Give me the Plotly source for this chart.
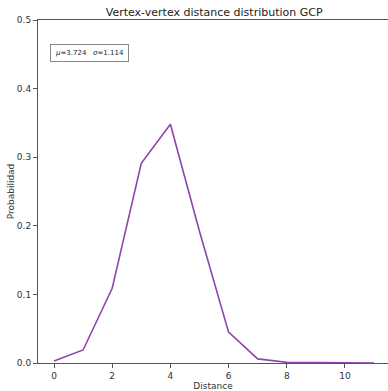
import plotly.graph_objects as go

distance = [0, 1, 2, 3, 4, 5, 6, 7, 8, 9, 10, 11]
probabilidad = [0.003, 0.019, 0.109, 0.291, 0.348, 0.192, 0.045, 0.006, 0.001, 0.0003, 0.0001, 0.0]
x_ticks = [0, 2, 4, 6, 8, 10]
y_ticks = [0.0, 0.1, 0.2, 0.3, 0.4, 0.5]
stats_text = "<i>μ</i>=3.724   <i>σ</i>=1.114"

fig = go.Figure()
fig.add_trace(go.Scatter(x=distance, y=probabilidad, mode="lines",
                         line=dict(color="#8e44ad", width=1.6), showlegend=False))

axis_common = dict(showgrid=False, zeroline=False, showline=True, linecolor="#555",
                   linewidth=1, ticks="outside", ticklen=4, tickcolor="#555",
                   tickfont=dict(size=9, color="#333"))
fig.update_layout(
    width=388, height=391,
    margin=dict(l=38, r=0, t=20, b=28),
    paper_bgcolor="white", plot_bgcolor="white",
    font=dict(family="DejaVu Sans", color="#222"),
    title=dict(text="Vertex-vertex distance distribution GCP", x=0.552, xanchor="center",
               y=0.97, yanchor="middle", font=dict(size=11, color="#222")),
    xaxis=dict(range=[-0.55, 11.48], tickvals=x_ticks, ticktext=[str(v) for v in x_ticks],
               title=dict(text="Distance", font=dict(size=9, color="#333"), standoff=4),
               mirror=True, **axis_common),
    yaxis=dict(range=[0, 0.5], tickvals=y_ticks, ticktext=[f"{v:.1f}" for v in y_ticks],
               title=dict(text="Probabilidad", font=dict(size=9, color="#333"), standoff=0),
               **axis_common),
)
fig.add_annotation(xref="paper", yref="paper", x=0.035, y=0.905, xanchor="left", yanchor="middle",
                   text=stats_text, showarrow=False, font=dict(size=7, color="#222"),
                   bordercolor="#888", borderwidth=1, borderpad=4, bgcolor="white")
fig.write_html("out.html")
